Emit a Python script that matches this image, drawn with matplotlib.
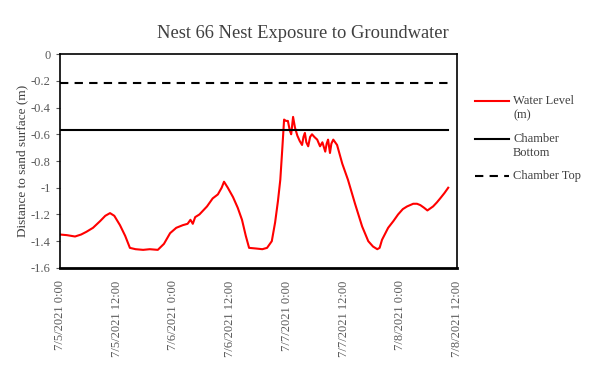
import datetime as dt
import matplotlib
matplotlib.use("Agg")
import matplotlib.pyplot as plt
from matplotlib.lines import Line2D

# hours after 7/5/2021 0:00 and water level (m)
hours = [0, 1.5, 3.2, 4.5, 5.6, 7.0, 8.5, 9.6, 10.6, 11.5, 12.7, 13.8, 14.8, 16.0,
         17.6, 19.0, 20.7, 22.0, 23.3, 24.6, 26.0, 27.0, 27.6, 28.1, 28.6, 29.5,
         31.1, 32.3, 33.4, 34.2, 34.7, 35.5, 36.6, 37.6, 38.5, 39.3, 40.0, 41.5,
         42.8, 43.8, 44.8, 45.5, 46.1, 46.6, 47.0, 47.4, 47.8, 48.2, 48.6, 48.9,
         49.3, 49.7, 50.2, 50.7, 51.2, 51.5, 51.8, 52.1, 52.5, 52.9, 53.3, 53.8,
         54.4, 55.0, 55.5, 56.1, 56.4, 56.7, 57.1, 57.4, 57.8, 58.2, 58.6, 59.7,
         60.9, 62.4, 63.9, 65.2, 66.2, 67.1, 67.6, 68.1, 69.4, 70.5, 71.5, 72.5,
         73.4, 74.7, 75.5, 76.2, 77.0, 77.7, 78.9, 79.7, 80.4, 81.3, 82.1]
level = [-1.35, -1.355, -1.365, -1.35, -1.33, -1.30, -1.25, -1.21, -1.19, -1.21,
         -1.28, -1.36, -1.45, -1.46, -1.465, -1.46, -1.465, -1.42, -1.34, -1.30,
         -1.28, -1.27, -1.24, -1.27, -1.22, -1.20, -1.14, -1.08, -1.05, -1.00,
         -0.955, -1.00, -1.07, -1.15, -1.24, -1.36, -1.45, -1.455, -1.46, -1.45,
         -1.40, -1.26, -1.10, -0.94, -0.72, -0.49, -0.50, -0.50, -0.57, -0.60,
         -0.47, -0.55, -0.61, -0.65, -0.68, -0.62, -0.59, -0.66, -0.69, -0.62,
         -0.60, -0.62, -0.64, -0.69, -0.66, -0.73, -0.67, -0.64, -0.74, -0.67,
         -0.64, -0.66, -0.68, -0.82, -0.94, -1.12, -1.29, -1.40, -1.44, -1.46,
         -1.45, -1.39, -1.30, -1.25, -1.20, -1.16, -1.14, -1.12, -1.12, -1.13,
         -1.15, -1.17, -1.14, -1.11, -1.08, -1.04, -1.00]
chamber_bottom = -0.57
chamber_top = -0.22

start = dt.datetime(2021, 7, 5)
times = [start + dt.timedelta(hours=h) for h in hours]
tick_times = [start + dt.timedelta(hours=12 * i) for i in range(8)]

plt.rcParams['font.family'] = ['Liberation Serif', 'DejaVu Serif']
gray = '#595959'
dark = '#404040'

fig = plt.figure(figsize=(5.93, 3.68), dpi=100)
ax = fig.add_axes([0.101, 0.272, 0.670, 0.581])

ax.plot(times, level, color='#ff0000', lw=1.5)
ax.plot([times[0], times[-1]], [chamber_bottom] * 2, color='black', lw=1.5)
ax.plot([times[0], times[-1]], [chamber_top] * 2, color='black', lw=1.5,
        ls=(0, (4, 3)))

ax.set_xlim(tick_times[0], tick_times[-1])
ax.set_ylim(-1.6, 0)
ax.set_yticks([0, -0.2, -0.4, -0.6, -0.8, -1, -1.2, -1.4, -1.6])
ax.set_yticklabels(['0', '-0.2', '-0.4', '-0.6', '-0.8', '-1', '-1.2', '-1.4', '-1.6'])
ax.set_xticks(tick_times)
ax.set_xticklabels([t.strftime('%-m/%-d/%Y %-H:%M') for t in tick_times],
                   rotation=90)
ax.tick_params(axis='both', labelsize=9, colors=gray, length=3)
ax.tick_params(axis='x', length=0, pad=9)
for s in ax.spines.values():
    s.set_linewidth(1.2)
ax.spines['bottom'].set_linewidth(2)

ax.set_ylabel('Distance to sand surface (m)', fontsize=9.5, color=dark, labelpad=2)
fig.text(303 / 593, 1 - 33 / 368, 'Nest 66 Nest Exposure to Groundwater',
         fontsize=13.3, color=dark, ha='center', va='center')

# legend, handles aligned with first text line as in the original
legend_items = [('Water Level\n(m)', '#ff0000', '-', 101),
                ('Chamber\nBottom', 'black', '-', 139),
                ('Chamber Top', 'black', (0, (4, 3)), 176)]
for label, color, style, ypix in legend_items:
    yf = 1 - ypix / 368
    fig.add_artist(Line2D([475 / 593, 509 / 593], [yf, yf], color=color,
                          lw=1.5, ls=style, transform=fig.transFigure))
    fig.text(513 / 593, yf + 6 / 368, label, fontsize=9, color=dark,
             ha='left', va='top', linespacing=1.25)

fig.savefig('out.png', dpi=100)
